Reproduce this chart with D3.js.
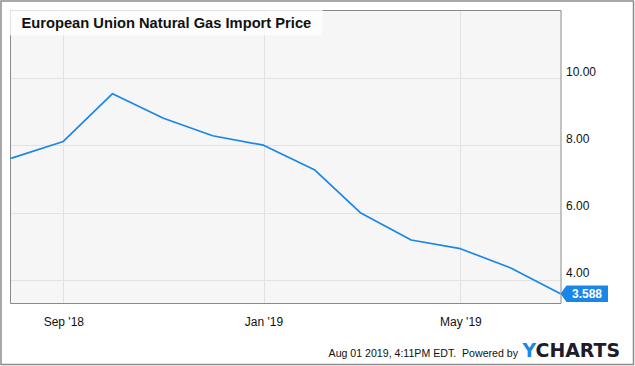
<!DOCTYPE html>
<html>
<head>
<meta charset="utf-8">
<script src="https://cdn.jsdelivr.net/npm/d3@7"></script>
<style>
  html, body { margin: 0; padding: 0; background: #fff; }
  svg { display: block; font-family: "Liberation Sans", Arial, sans-serif; }
</style>
</head>
<body>
<svg id="chart" width="635" height="366"></svg>
<script>
const title = "European Union Natural Gas Import Price";
const dates = ["2018-07-01","2018-08-01","2018-09-01","2018-10-01","2018-11-01","2018-12-01",
               "2019-01-01","2019-02-01","2019-03-01","2019-04-01","2019-05-01","2019-06-01","2019-07-01"];
const values = [7.55, 7.63, 8.12, 9.54, 8.81, 8.29, 8.01, 7.28, 6.00, 5.19, 4.93, 4.35, 3.588];
const yTicks = [4, 6, 8, 10];
const xTicks = ["2018-09-01", "2019-01-01", "2019-05-01"];
const lastLabel = "3.588";
const footer = "Aug 01 2019, 4:11PM EDT.  Powered by";

const parse = d3.utcParse("%Y-%m-%d");
const data = dates.map((d, i) => ({ date: parse(d), value: values[i] }));

const svg = d3.select("#chart");
const plot = { left: 10, top: 10, right: 560.5, bottom: 303 };

const x = d3.scaleUtc()
  .domain([new Date(Date.UTC(2018, 6, 30, 12)), new Date(Date.UTC(2019, 6, 1))])
  .range([plot.left, plot.right]);
const y = d3.scaleLinear().domain([3.315, 12.03]).range([plot.bottom, plot.top]);

// outer border
svg.append("rect").attr("x", 1).attr("y", 1).attr("width", 632.5).attr("height", 363.5)
  .attr("fill", "#fff").attr("stroke", "#8c8c8c").attr("stroke-width", 1.5);

// plot background
svg.append("rect").attr("x", plot.left).attr("y", plot.top)
  .attr("width", plot.right - plot.left).attr("height", plot.bottom - plot.top)
  .attr("fill", "#f6f6f6");

// gridlines
svg.append("g").selectAll("line").data(yTicks).join("line")
  .attr("x1", plot.left).attr("x2", plot.right)
  .attr("y1", d => Math.round(y(d)) + 0.5).attr("y2", d => Math.round(y(d)) + 0.5)
  .attr("stroke", "#e2e2e2").attr("stroke-width", 1);
svg.append("g").selectAll("line").data(xTicks.map(parse)).join("line")
  .attr("x1", d => Math.round(x(d)) + 0.5).attr("x2", d => Math.round(x(d)) + 0.5)
  .attr("y1", plot.top).attr("y2", plot.bottom)
  .attr("stroke", "#e2e2e2").attr("stroke-width", 1);

// plot border
svg.append("path")
  .attr("d", `M${plot.left + 0.5},${plot.top + 0.5}V${plot.bottom + 0.5}H${plot.right + 0.5}V${plot.top + 0.5}Z`)
  .attr("fill", "none").attr("stroke", "#8a8a8a").attr("stroke-width", 1);

// line
svg.append("defs").append("clipPath").attr("id", "clip")
  .append("rect").attr("x", plot.left).attr("y", plot.top)
  .attr("width", plot.right - plot.left).attr("height", plot.bottom - plot.top);
svg.append("path").datum(data)
  .attr("clip-path", "url(#clip)")
  .attr("fill", "none").attr("stroke", "#1a87e6").attr("stroke-width", 1.7)
  .attr("stroke-linejoin", "round")
  .attr("d", d3.line().x(d => x(d.date)).y(d => y(d.value)));

// title box
svg.append("rect").attr("x", 9.5).attr("y", 9.5).attr("width", 313).attr("height", 26)
  .attr("fill", "#fff").attr("fill-opacity", 0.75);
svg.append("text").attr("x", 21.5).attr("y", 28.3)
  .attr("font-size", 14.7).attr("font-weight", "bold").attr("fill", "#111")
  .text(title);

// y axis
const yAxis = svg.append("g").attr("transform", `translate(${plot.right},0)`)
  .call(d3.axisRight(y).tickValues(yTicks).tickFormat(d3.format(".2f")).tickSize(0));
yAxis.select(".domain").remove();
yAxis.selectAll("text")
  .attr("x", 5.5).attr("dy", "-0.25em")
  .attr("font-size", 12).attr("font-family", "Liberation Sans, Arial, sans-serif").attr("fill", "#111");

// x axis
const xAxis = svg.append("g").attr("transform", `translate(0,${plot.bottom})`)
  .call(d3.axisBottom(x).tickValues(xTicks.map(parse)).tickFormat(d3.utcFormat("%b '%y")).tickSize(0));
xAxis.select(".domain").remove();
xAxis.selectAll("text")
  .attr("y", 14).attr("dy", "0.71em")
  .attr("font-size", 12).attr("font-family", "Liberation Sans, Arial, sans-serif").attr("fill", "#111");

// last value tag
const last = data[data.length - 1];
const tx = x(last.date), ty = y(last.value);
svg.append("path")
  .attr("d", `M${tx},${ty}L${tx + 6},${ty - 8.3}H${tx + 47.5}V${ty + 8.3}H${tx + 6}Z`)
  .attr("fill", "#1a87e6");
svg.append("text").attr("x", tx + 26.5).attr("y", ty + 4.3)
  .attr("text-anchor", "middle").attr("font-size", 12).attr("font-weight", "bold")
  .attr("fill", "#fff").text(lastLabel);

// footer
svg.append("text").attr("x", 518).attr("y", 357).attr("text-anchor", "end")
  .attr("font-size", 10.6).attr("fill", "#111").attr("xml:space", "preserve")
  .style("white-space", "pre").text(footer);
const logo = svg.append("text").attr("x", 522.5).attr("y", 356.7)
  .attr("font-family", "DejaVu Sans, sans-serif").attr("font-size", 18.9).attr("font-weight", "bold");
logo.append("tspan").attr("fill", "#1a87e6").text("Y");
logo.append("tspan").attr("fill", "#1c1c2b").text("CHARTS");
</script>
</body>
</html>
